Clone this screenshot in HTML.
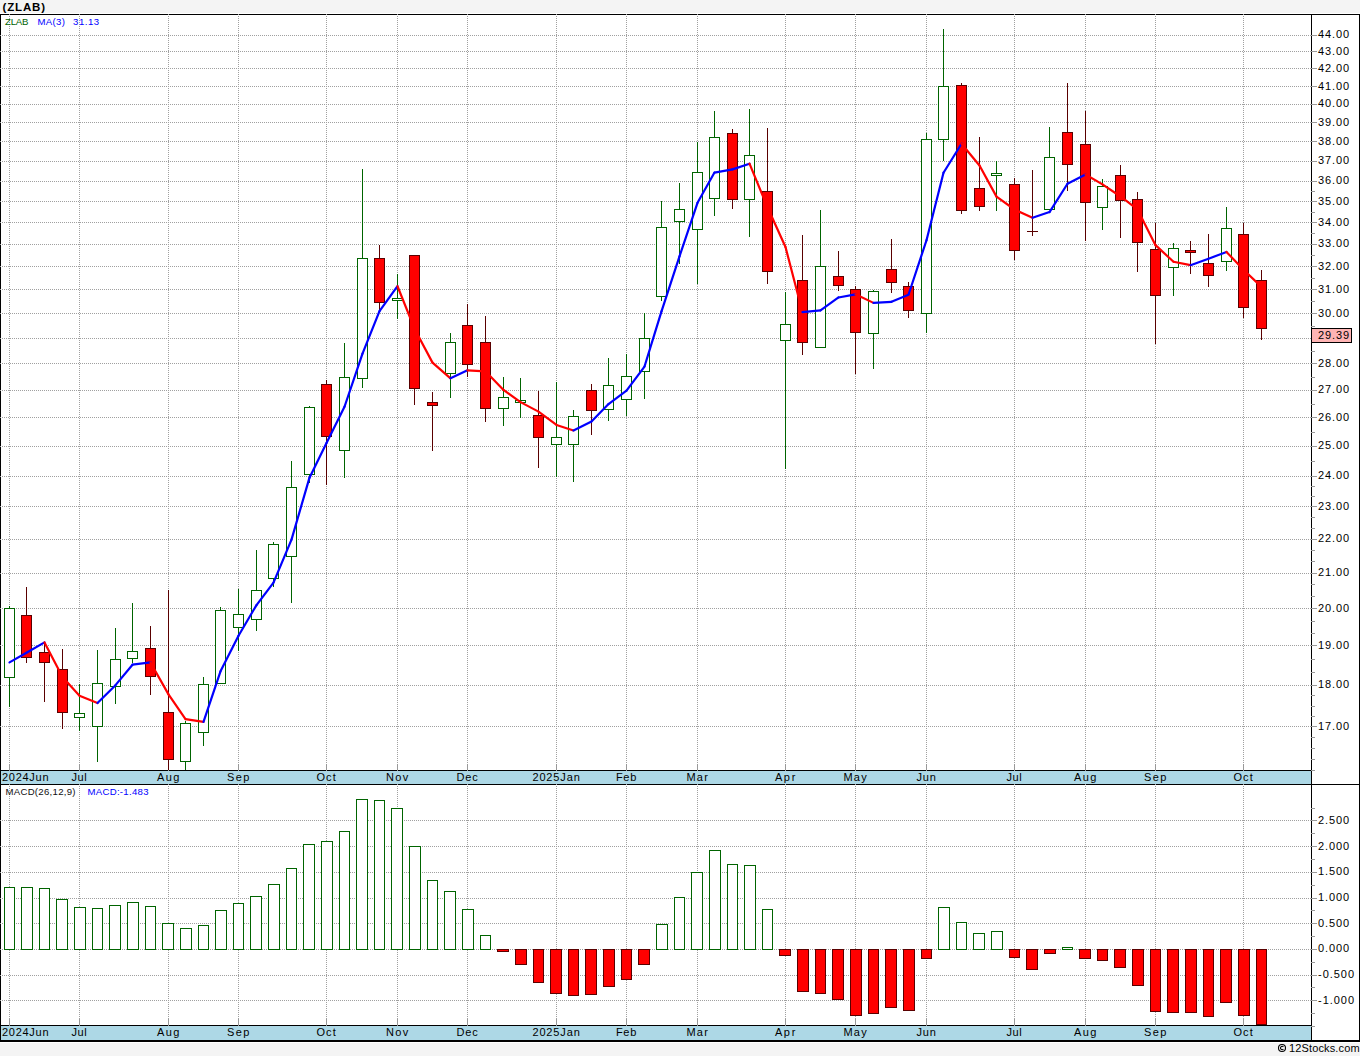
<!DOCTYPE html>
<html><head><meta charset="utf-8"><style>
html,body{margin:0;padding:0;background:#f4f4f4;}
body{width:1360px;height:1056px;overflow:hidden;}
svg{display:block;}
text{font-family:"Liberation Sans",sans-serif;}
</style></head><body>
<svg width="1360" height="1056" viewBox="0 0 1360 1056" shape-rendering="crispEdges">
<rect x="0" y="0" width="1360" height="1056" fill="#f4f4f4"/>
<rect x="0" y="13" width="1360" height="1030" fill="#fff"/>
<rect x="0" y="14" width="1360" height="1" fill="#000"/>
<rect x="0" y="14" width="1" height="1028" fill="#000"/>
<rect x="1359" y="14" width="1" height="1028" fill="#000"/>
<rect x="1311" y="14" width="1" height="1028" fill="#000"/>
<rect x="0" y="770" width="1311" height="1" fill="#000"/>
<rect x="1" y="771" width="1310" height="13" fill="#add8e6"/>
<rect x="0" y="784" width="1360" height="1" fill="#000"/>
<rect x="0" y="1025" width="1311" height="1" fill="#000"/>
<rect x="1" y="1026" width="1310" height="14" fill="#add8e6"/>
<rect x="0" y="1040" width="1360" height="2" fill="#000"/>
<line x1="0" y1="726.5" x2="1311" y2="726.5" stroke="#a0a0a0" stroke-width="1" stroke-dasharray="1 1"/>
<line x1="0" y1="685.5" x2="1311" y2="685.5" stroke="#a0a0a0" stroke-width="1" stroke-dasharray="1 1"/>
<line x1="0" y1="645.5" x2="1311" y2="645.5" stroke="#a0a0a0" stroke-width="1" stroke-dasharray="1 1"/>
<line x1="0" y1="608.5" x2="1311" y2="608.5" stroke="#a0a0a0" stroke-width="1" stroke-dasharray="1 1"/>
<line x1="0" y1="573.5" x2="1311" y2="573.5" stroke="#a0a0a0" stroke-width="1" stroke-dasharray="1 1"/>
<line x1="0" y1="539.5" x2="1311" y2="539.5" stroke="#a0a0a0" stroke-width="1" stroke-dasharray="1 1"/>
<line x1="0" y1="506.5" x2="1311" y2="506.5" stroke="#a0a0a0" stroke-width="1" stroke-dasharray="1 1"/>
<line x1="0" y1="476.5" x2="1311" y2="476.5" stroke="#a0a0a0" stroke-width="1" stroke-dasharray="1 1"/>
<line x1="0" y1="446.5" x2="1311" y2="446.5" stroke="#a0a0a0" stroke-width="1" stroke-dasharray="1 1"/>
<line x1="0" y1="417.5" x2="1311" y2="417.5" stroke="#a0a0a0" stroke-width="1" stroke-dasharray="1 1"/>
<line x1="0" y1="390.5" x2="1311" y2="390.5" stroke="#a0a0a0" stroke-width="1" stroke-dasharray="1 1"/>
<line x1="0" y1="363.5" x2="1311" y2="363.5" stroke="#a0a0a0" stroke-width="1" stroke-dasharray="1 1"/>
<line x1="0" y1="338.5" x2="1311" y2="338.5" stroke="#a0a0a0" stroke-width="1" stroke-dasharray="1 1"/>
<line x1="0" y1="313.5" x2="1311" y2="313.5" stroke="#a0a0a0" stroke-width="1" stroke-dasharray="1 1"/>
<line x1="0" y1="289.5" x2="1311" y2="289.5" stroke="#a0a0a0" stroke-width="1" stroke-dasharray="1 1"/>
<line x1="0" y1="266.5" x2="1311" y2="266.5" stroke="#a0a0a0" stroke-width="1" stroke-dasharray="1 1"/>
<line x1="0" y1="244.5" x2="1311" y2="244.5" stroke="#a0a0a0" stroke-width="1" stroke-dasharray="1 1"/>
<line x1="0" y1="222.5" x2="1311" y2="222.5" stroke="#a0a0a0" stroke-width="1" stroke-dasharray="1 1"/>
<line x1="0" y1="201.5" x2="1311" y2="201.5" stroke="#a0a0a0" stroke-width="1" stroke-dasharray="1 1"/>
<line x1="0" y1="181.5" x2="1311" y2="181.5" stroke="#a0a0a0" stroke-width="1" stroke-dasharray="1 1"/>
<line x1="0" y1="161.5" x2="1311" y2="161.5" stroke="#a0a0a0" stroke-width="1" stroke-dasharray="1 1"/>
<line x1="0" y1="141.5" x2="1311" y2="141.5" stroke="#a0a0a0" stroke-width="1" stroke-dasharray="1 1"/>
<line x1="0" y1="122.5" x2="1311" y2="122.5" stroke="#a0a0a0" stroke-width="1" stroke-dasharray="1 1"/>
<line x1="0" y1="104.5" x2="1311" y2="104.5" stroke="#a0a0a0" stroke-width="1" stroke-dasharray="1 1"/>
<line x1="0" y1="86.5" x2="1311" y2="86.5" stroke="#a0a0a0" stroke-width="1" stroke-dasharray="1 1"/>
<line x1="0" y1="68.5" x2="1311" y2="68.5" stroke="#a0a0a0" stroke-width="1" stroke-dasharray="1 1"/>
<line x1="0" y1="51.5" x2="1311" y2="51.5" stroke="#a0a0a0" stroke-width="1" stroke-dasharray="1 1"/>
<line x1="0" y1="35.5" x2="1311" y2="35.5" stroke="#a0a0a0" stroke-width="1" stroke-dasharray="1 1"/>
<line x1="0" y1="1000.5" x2="1311" y2="1000.5" stroke="#a0a0a0" stroke-width="1" stroke-dasharray="1 1"/>
<line x1="0" y1="975.5" x2="1311" y2="975.5" stroke="#a0a0a0" stroke-width="1" stroke-dasharray="1 1"/>
<line x1="0" y1="949.5" x2="1311" y2="949.5" stroke="#a0a0a0" stroke-width="1" stroke-dasharray="1 1"/>
<line x1="0" y1="923.5" x2="1311" y2="923.5" stroke="#a0a0a0" stroke-width="1" stroke-dasharray="1 1"/>
<line x1="0" y1="898.5" x2="1311" y2="898.5" stroke="#a0a0a0" stroke-width="1" stroke-dasharray="1 1"/>
<line x1="0" y1="872.5" x2="1311" y2="872.5" stroke="#a0a0a0" stroke-width="1" stroke-dasharray="1 1"/>
<line x1="0" y1="846.5" x2="1311" y2="846.5" stroke="#a0a0a0" stroke-width="1" stroke-dasharray="1 1"/>
<line x1="0" y1="820.5" x2="1311" y2="820.5" stroke="#a0a0a0" stroke-width="1" stroke-dasharray="1 1"/>
<line x1="9.5" y1="14" x2="9.5" y2="764" stroke="#a0a0a0" stroke-width="1" stroke-dasharray="1 1"/>
<rect x="9" y="764" width="1" height="7" fill="#999999"/>
<rect x="9" y="784" width="1" height="1" fill="#a0a0a0"/>
<line x1="9.5" y1="786" x2="9.5" y2="1019" stroke="#a0a0a0" stroke-width="1" stroke-dasharray="1 1"/>
<rect x="9" y="1019" width="1" height="7" fill="#999999"/>
<line x1="79.5" y1="14" x2="79.5" y2="764" stroke="#a0a0a0" stroke-width="1" stroke-dasharray="1 1"/>
<rect x="79" y="764" width="1" height="7" fill="#999999"/>
<rect x="79" y="784" width="1" height="1" fill="#a0a0a0"/>
<line x1="79.5" y1="786" x2="79.5" y2="1019" stroke="#a0a0a0" stroke-width="1" stroke-dasharray="1 1"/>
<rect x="79" y="1019" width="1" height="7" fill="#999999"/>
<line x1="168.5" y1="14" x2="168.5" y2="764" stroke="#a0a0a0" stroke-width="1" stroke-dasharray="1 1"/>
<rect x="168" y="764" width="1" height="7" fill="#999999"/>
<rect x="168" y="784" width="1" height="1" fill="#a0a0a0"/>
<line x1="168.5" y1="786" x2="168.5" y2="1019" stroke="#a0a0a0" stroke-width="1" stroke-dasharray="1 1"/>
<rect x="168" y="1019" width="1" height="7" fill="#999999"/>
<line x1="238.5" y1="14" x2="238.5" y2="764" stroke="#a0a0a0" stroke-width="1" stroke-dasharray="1 1"/>
<rect x="238" y="764" width="1" height="7" fill="#999999"/>
<rect x="238" y="784" width="1" height="1" fill="#a0a0a0"/>
<line x1="238.5" y1="786" x2="238.5" y2="1019" stroke="#a0a0a0" stroke-width="1" stroke-dasharray="1 1"/>
<rect x="238" y="1019" width="1" height="7" fill="#999999"/>
<line x1="326.5" y1="14" x2="326.5" y2="764" stroke="#a0a0a0" stroke-width="1" stroke-dasharray="1 1"/>
<rect x="326" y="764" width="1" height="7" fill="#999999"/>
<rect x="326" y="784" width="1" height="1" fill="#a0a0a0"/>
<line x1="326.5" y1="786" x2="326.5" y2="1019" stroke="#a0a0a0" stroke-width="1" stroke-dasharray="1 1"/>
<rect x="326" y="1019" width="1" height="7" fill="#999999"/>
<line x1="397.5" y1="14" x2="397.5" y2="764" stroke="#a0a0a0" stroke-width="1" stroke-dasharray="1 1"/>
<rect x="397" y="764" width="1" height="7" fill="#999999"/>
<rect x="397" y="784" width="1" height="1" fill="#a0a0a0"/>
<line x1="397.5" y1="786" x2="397.5" y2="1019" stroke="#a0a0a0" stroke-width="1" stroke-dasharray="1 1"/>
<rect x="397" y="1019" width="1" height="7" fill="#999999"/>
<line x1="467.5" y1="14" x2="467.5" y2="764" stroke="#a0a0a0" stroke-width="1" stroke-dasharray="1 1"/>
<rect x="467" y="764" width="1" height="7" fill="#999999"/>
<rect x="467" y="784" width="1" height="1" fill="#a0a0a0"/>
<line x1="467.5" y1="786" x2="467.5" y2="1019" stroke="#a0a0a0" stroke-width="1" stroke-dasharray="1 1"/>
<rect x="467" y="1019" width="1" height="7" fill="#999999"/>
<line x1="556.5" y1="14" x2="556.5" y2="764" stroke="#a0a0a0" stroke-width="1" stroke-dasharray="1 1"/>
<rect x="556" y="764" width="1" height="7" fill="#999999"/>
<rect x="556" y="784" width="1" height="1" fill="#a0a0a0"/>
<line x1="556.5" y1="786" x2="556.5" y2="1019" stroke="#a0a0a0" stroke-width="1" stroke-dasharray="1 1"/>
<rect x="556" y="1019" width="1" height="7" fill="#999999"/>
<line x1="626.5" y1="14" x2="626.5" y2="764" stroke="#a0a0a0" stroke-width="1" stroke-dasharray="1 1"/>
<rect x="626" y="764" width="1" height="7" fill="#999999"/>
<rect x="626" y="784" width="1" height="1" fill="#a0a0a0"/>
<line x1="626.5" y1="786" x2="626.5" y2="1019" stroke="#a0a0a0" stroke-width="1" stroke-dasharray="1 1"/>
<rect x="626" y="1019" width="1" height="7" fill="#999999"/>
<line x1="697.5" y1="14" x2="697.5" y2="764" stroke="#a0a0a0" stroke-width="1" stroke-dasharray="1 1"/>
<rect x="697" y="764" width="1" height="7" fill="#999999"/>
<rect x="697" y="784" width="1" height="1" fill="#a0a0a0"/>
<line x1="697.5" y1="786" x2="697.5" y2="1019" stroke="#a0a0a0" stroke-width="1" stroke-dasharray="1 1"/>
<rect x="697" y="1019" width="1" height="7" fill="#999999"/>
<line x1="785.5" y1="14" x2="785.5" y2="764" stroke="#a0a0a0" stroke-width="1" stroke-dasharray="1 1"/>
<rect x="785" y="764" width="1" height="7" fill="#999999"/>
<rect x="785" y="784" width="1" height="1" fill="#a0a0a0"/>
<line x1="785.5" y1="786" x2="785.5" y2="1019" stroke="#a0a0a0" stroke-width="1" stroke-dasharray="1 1"/>
<rect x="785" y="1019" width="1" height="7" fill="#999999"/>
<line x1="855.5" y1="14" x2="855.5" y2="764" stroke="#a0a0a0" stroke-width="1" stroke-dasharray="1 1"/>
<rect x="855" y="764" width="1" height="7" fill="#999999"/>
<rect x="855" y="784" width="1" height="1" fill="#a0a0a0"/>
<line x1="855.5" y1="786" x2="855.5" y2="1019" stroke="#a0a0a0" stroke-width="1" stroke-dasharray="1 1"/>
<rect x="855" y="1019" width="1" height="7" fill="#999999"/>
<line x1="926.5" y1="14" x2="926.5" y2="764" stroke="#a0a0a0" stroke-width="1" stroke-dasharray="1 1"/>
<rect x="926" y="764" width="1" height="7" fill="#999999"/>
<rect x="926" y="784" width="1" height="1" fill="#a0a0a0"/>
<line x1="926.5" y1="786" x2="926.5" y2="1019" stroke="#a0a0a0" stroke-width="1" stroke-dasharray="1 1"/>
<rect x="926" y="1019" width="1" height="7" fill="#999999"/>
<line x1="1014.5" y1="14" x2="1014.5" y2="764" stroke="#a0a0a0" stroke-width="1" stroke-dasharray="1 1"/>
<rect x="1014" y="764" width="1" height="7" fill="#999999"/>
<rect x="1014" y="784" width="1" height="1" fill="#a0a0a0"/>
<line x1="1014.5" y1="786" x2="1014.5" y2="1019" stroke="#a0a0a0" stroke-width="1" stroke-dasharray="1 1"/>
<rect x="1014" y="1019" width="1" height="7" fill="#999999"/>
<line x1="1085.5" y1="14" x2="1085.5" y2="764" stroke="#a0a0a0" stroke-width="1" stroke-dasharray="1 1"/>
<rect x="1085" y="764" width="1" height="7" fill="#999999"/>
<rect x="1085" y="784" width="1" height="1" fill="#a0a0a0"/>
<line x1="1085.5" y1="786" x2="1085.5" y2="1019" stroke="#a0a0a0" stroke-width="1" stroke-dasharray="1 1"/>
<rect x="1085" y="1019" width="1" height="7" fill="#999999"/>
<line x1="1155.5" y1="14" x2="1155.5" y2="764" stroke="#a0a0a0" stroke-width="1" stroke-dasharray="1 1"/>
<rect x="1155" y="764" width="1" height="7" fill="#999999"/>
<rect x="1155" y="784" width="1" height="1" fill="#a0a0a0"/>
<line x1="1155.5" y1="786" x2="1155.5" y2="1019" stroke="#a0a0a0" stroke-width="1" stroke-dasharray="1 1"/>
<rect x="1155" y="1019" width="1" height="7" fill="#999999"/>
<line x1="1243.5" y1="14" x2="1243.5" y2="764" stroke="#a0a0a0" stroke-width="1" stroke-dasharray="1 1"/>
<rect x="1243" y="764" width="1" height="7" fill="#999999"/>
<rect x="1243" y="784" width="1" height="1" fill="#a0a0a0"/>
<line x1="1243.5" y1="786" x2="1243.5" y2="1019" stroke="#a0a0a0" stroke-width="1" stroke-dasharray="1 1"/>
<rect x="1243" y="1019" width="1" height="7" fill="#999999"/>
<rect x="1311" y="770" width="4" height="1" fill="#999999"/>
<rect x="1311" y="759" width="4" height="1" fill="#999999"/>
<rect x="1311" y="748" width="4" height="1" fill="#999999"/>
<rect x="1311" y="737" width="4" height="1" fill="#999999"/>
<rect x="1311" y="726" width="6" height="1" fill="#999999"/>
<rect x="1311" y="716" width="4" height="1" fill="#999999"/>
<rect x="1311" y="706" width="4" height="1" fill="#999999"/>
<rect x="1311" y="695" width="4" height="1" fill="#999999"/>
<rect x="1311" y="685" width="6" height="1" fill="#999999"/>
<rect x="1311" y="672" width="4" height="1" fill="#999999"/>
<rect x="1311" y="659" width="4" height="1" fill="#999999"/>
<rect x="1311" y="645" width="6" height="1" fill="#999999"/>
<rect x="1311" y="633" width="4" height="1" fill="#999999"/>
<rect x="1311" y="621" width="4" height="1" fill="#999999"/>
<rect x="1311" y="608" width="6" height="1" fill="#999999"/>
<rect x="1311" y="596" width="4" height="1" fill="#999999"/>
<rect x="1311" y="584" width="4" height="1" fill="#999999"/>
<rect x="1311" y="573" width="6" height="1" fill="#999999"/>
<rect x="1311" y="561" width="4" height="1" fill="#999999"/>
<rect x="1311" y="550" width="4" height="1" fill="#999999"/>
<rect x="1311" y="539" width="6" height="1" fill="#999999"/>
<rect x="1311" y="528" width="4" height="1" fill="#999999"/>
<rect x="1311" y="517" width="4" height="1" fill="#999999"/>
<rect x="1311" y="506" width="6" height="1" fill="#999999"/>
<rect x="1311" y="496" width="4" height="1" fill="#999999"/>
<rect x="1311" y="486" width="4" height="1" fill="#999999"/>
<rect x="1311" y="476" width="6" height="1" fill="#999999"/>
<rect x="1311" y="461" width="4" height="1" fill="#999999"/>
<rect x="1311" y="446" width="6" height="1" fill="#999999"/>
<rect x="1311" y="432" width="4" height="1" fill="#999999"/>
<rect x="1311" y="417" width="6" height="1" fill="#999999"/>
<rect x="1311" y="404" width="4" height="1" fill="#999999"/>
<rect x="1311" y="390" width="6" height="1" fill="#999999"/>
<rect x="1311" y="377" width="4" height="1" fill="#999999"/>
<rect x="1311" y="363" width="6" height="1" fill="#999999"/>
<rect x="1311" y="351" width="4" height="1" fill="#999999"/>
<rect x="1311" y="338" width="6" height="1" fill="#999999"/>
<rect x="1311" y="326" width="4" height="1" fill="#999999"/>
<rect x="1311" y="313" width="6" height="1" fill="#999999"/>
<rect x="1311" y="301" width="4" height="1" fill="#999999"/>
<rect x="1311" y="289" width="6" height="1" fill="#999999"/>
<rect x="1311" y="278" width="4" height="1" fill="#999999"/>
<rect x="1311" y="266" width="6" height="1" fill="#999999"/>
<rect x="1311" y="255" width="4" height="1" fill="#999999"/>
<rect x="1311" y="244" width="6" height="1" fill="#999999"/>
<rect x="1311" y="233" width="4" height="1" fill="#999999"/>
<rect x="1311" y="222" width="6" height="1" fill="#999999"/>
<rect x="1311" y="212" width="4" height="1" fill="#999999"/>
<rect x="1311" y="201" width="6" height="1" fill="#999999"/>
<rect x="1311" y="191" width="4" height="1" fill="#999999"/>
<rect x="1311" y="181" width="6" height="1" fill="#999999"/>
<rect x="1311" y="161" width="6" height="1" fill="#999999"/>
<rect x="1311" y="141" width="6" height="1" fill="#999999"/>
<rect x="1311" y="122" width="6" height="1" fill="#999999"/>
<rect x="1311" y="104" width="6" height="1" fill="#999999"/>
<rect x="1311" y="86" width="6" height="1" fill="#999999"/>
<rect x="1311" y="68" width="6" height="1" fill="#999999"/>
<rect x="1311" y="51" width="6" height="1" fill="#999999"/>
<rect x="1311" y="35" width="6" height="1" fill="#999999"/>
<rect x="1311" y="1026" width="4" height="1" fill="#999999"/>
<rect x="1311" y="1013" width="4" height="1" fill="#999999"/>
<rect x="1311" y="1000" width="6" height="1" fill="#999999"/>
<rect x="1311" y="987" width="4" height="1" fill="#999999"/>
<rect x="1311" y="975" width="6" height="1" fill="#999999"/>
<rect x="1311" y="962" width="4" height="1" fill="#999999"/>
<rect x="1311" y="949" width="6" height="1" fill="#999999"/>
<rect x="1311" y="936" width="4" height="1" fill="#999999"/>
<rect x="1311" y="923" width="6" height="1" fill="#999999"/>
<rect x="1311" y="910" width="4" height="1" fill="#999999"/>
<rect x="1311" y="898" width="6" height="1" fill="#999999"/>
<rect x="1311" y="885" width="4" height="1" fill="#999999"/>
<rect x="1311" y="872" width="6" height="1" fill="#999999"/>
<rect x="1311" y="859" width="4" height="1" fill="#999999"/>
<rect x="1311" y="846" width="6" height="1" fill="#999999"/>
<rect x="1311" y="833" width="4" height="1" fill="#999999"/>
<rect x="1311" y="820" width="6" height="1" fill="#999999"/>
<rect x="1311" y="808" width="4" height="1" fill="#999999"/>
<rect x="9" y="606" width="1" height="101" fill="#006400"/>
<rect x="4" y="608" width="11" height="70" fill="#006400"/>
<rect x="5" y="609" width="9" height="68" fill="#fff"/>
<rect x="26" y="587" width="1" height="76" fill="#5a0000"/>
<rect x="21" y="615" width="11" height="43" fill="#5a0000"/>
<rect x="22" y="616" width="9" height="41" fill="#ff0000"/>
<rect x="44" y="643" width="1" height="59" fill="#5a0000"/>
<rect x="39" y="652" width="11" height="11" fill="#5a0000"/>
<rect x="40" y="653" width="9" height="9" fill="#ff0000"/>
<rect x="62" y="649" width="1" height="80" fill="#5a0000"/>
<rect x="57" y="669" width="11" height="44" fill="#5a0000"/>
<rect x="58" y="670" width="9" height="42" fill="#ff0000"/>
<rect x="79" y="684" width="1" height="47" fill="#006400"/>
<rect x="74" y="713" width="11" height="5" fill="#006400"/>
<rect x="75" y="714" width="9" height="3" fill="#fff"/>
<rect x="97" y="650" width="1" height="112" fill="#006400"/>
<rect x="92" y="683" width="11" height="44" fill="#006400"/>
<rect x="93" y="684" width="9" height="42" fill="#fff"/>
<rect x="115" y="628" width="1" height="76" fill="#006400"/>
<rect x="110" y="659" width="11" height="28" fill="#006400"/>
<rect x="111" y="660" width="9" height="26" fill="#fff"/>
<rect x="132" y="603" width="1" height="60" fill="#006400"/>
<rect x="127" y="651" width="11" height="8" fill="#006400"/>
<rect x="128" y="652" width="9" height="6" fill="#fff"/>
<rect x="150" y="626" width="1" height="69" fill="#5a0000"/>
<rect x="145" y="648" width="11" height="29" fill="#5a0000"/>
<rect x="146" y="649" width="9" height="27" fill="#ff0000"/>
<rect x="168" y="590" width="1" height="180" fill="#5a0000"/>
<rect x="163" y="712" width="11" height="48" fill="#5a0000"/>
<rect x="164" y="713" width="9" height="46" fill="#ff0000"/>
<rect x="185" y="721" width="1" height="49" fill="#006400"/>
<rect x="180" y="723" width="11" height="39" fill="#006400"/>
<rect x="181" y="724" width="9" height="37" fill="#fff"/>
<rect x="203" y="677" width="1" height="69" fill="#006400"/>
<rect x="198" y="684" width="11" height="49" fill="#006400"/>
<rect x="199" y="685" width="9" height="47" fill="#fff"/>
<rect x="220" y="607" width="1" height="77" fill="#006400"/>
<rect x="215" y="610" width="11" height="74" fill="#006400"/>
<rect x="216" y="611" width="9" height="72" fill="#fff"/>
<rect x="238" y="589" width="1" height="62" fill="#006400"/>
<rect x="233" y="614" width="11" height="14" fill="#006400"/>
<rect x="234" y="615" width="9" height="12" fill="#fff"/>
<rect x="256" y="550" width="1" height="81" fill="#006400"/>
<rect x="251" y="590" width="11" height="30" fill="#006400"/>
<rect x="252" y="591" width="9" height="28" fill="#fff"/>
<rect x="273" y="542" width="1" height="45" fill="#006400"/>
<rect x="268" y="544" width="11" height="35" fill="#006400"/>
<rect x="269" y="545" width="9" height="33" fill="#fff"/>
<rect x="291" y="461" width="1" height="142" fill="#006400"/>
<rect x="286" y="487" width="11" height="70" fill="#006400"/>
<rect x="287" y="488" width="9" height="68" fill="#fff"/>
<rect x="309" y="406" width="1" height="77" fill="#006400"/>
<rect x="304" y="407" width="11" height="68" fill="#006400"/>
<rect x="305" y="408" width="9" height="66" fill="#fff"/>
<rect x="326" y="380" width="1" height="105" fill="#5a0000"/>
<rect x="321" y="384" width="11" height="53" fill="#5a0000"/>
<rect x="322" y="385" width="9" height="51" fill="#ff0000"/>
<rect x="344" y="343" width="1" height="135" fill="#006400"/>
<rect x="339" y="377" width="11" height="74" fill="#006400"/>
<rect x="340" y="378" width="9" height="72" fill="#fff"/>
<rect x="362" y="169" width="1" height="219" fill="#006400"/>
<rect x="357" y="258" width="11" height="121" fill="#006400"/>
<rect x="358" y="259" width="9" height="119" fill="#fff"/>
<rect x="379" y="245" width="1" height="65" fill="#5a0000"/>
<rect x="374" y="258" width="11" height="45" fill="#5a0000"/>
<rect x="375" y="259" width="9" height="43" fill="#ff0000"/>
<rect x="397" y="274" width="1" height="45" fill="#006400"/>
<rect x="392" y="298" width="11" height="3" fill="#006400"/>
<rect x="393" y="299" width="9" height="1" fill="#fff"/>
<rect x="414" y="255" width="1" height="150" fill="#5a0000"/>
<rect x="409" y="255" width="11" height="134" fill="#5a0000"/>
<rect x="410" y="256" width="9" height="132" fill="#ff0000"/>
<rect x="432" y="392" width="1" height="59" fill="#5a0000"/>
<rect x="427" y="402" width="11" height="4" fill="#5a0000"/>
<rect x="428" y="403" width="9" height="2" fill="#ff0000"/>
<rect x="450" y="333" width="1" height="65" fill="#006400"/>
<rect x="445" y="342" width="11" height="32" fill="#006400"/>
<rect x="446" y="343" width="9" height="30" fill="#fff"/>
<rect x="467" y="304" width="1" height="73" fill="#5a0000"/>
<rect x="462" y="325" width="11" height="40" fill="#5a0000"/>
<rect x="463" y="326" width="9" height="38" fill="#ff0000"/>
<rect x="485" y="316" width="1" height="106" fill="#5a0000"/>
<rect x="480" y="342" width="11" height="67" fill="#5a0000"/>
<rect x="481" y="343" width="9" height="65" fill="#ff0000"/>
<rect x="503" y="377" width="1" height="49" fill="#006400"/>
<rect x="498" y="397" width="11" height="12" fill="#006400"/>
<rect x="499" y="398" width="9" height="10" fill="#fff"/>
<rect x="520" y="378" width="1" height="40" fill="#006400"/>
<rect x="515" y="400" width="11" height="3" fill="#006400"/>
<rect x="516" y="401" width="9" height="1" fill="#fff"/>
<rect x="538" y="391" width="1" height="77" fill="#5a0000"/>
<rect x="533" y="415" width="11" height="23" fill="#5a0000"/>
<rect x="534" y="416" width="9" height="21" fill="#ff0000"/>
<rect x="556" y="382" width="1" height="95" fill="#006400"/>
<rect x="551" y="437" width="11" height="8" fill="#006400"/>
<rect x="552" y="438" width="9" height="6" fill="#fff"/>
<rect x="573" y="410" width="1" height="72" fill="#006400"/>
<rect x="568" y="416" width="11" height="29" fill="#006400"/>
<rect x="569" y="417" width="9" height="27" fill="#fff"/>
<rect x="591" y="384" width="1" height="51" fill="#5a0000"/>
<rect x="586" y="390" width="11" height="21" fill="#5a0000"/>
<rect x="587" y="391" width="9" height="19" fill="#ff0000"/>
<rect x="608" y="358" width="1" height="63" fill="#006400"/>
<rect x="603" y="385" width="11" height="25" fill="#006400"/>
<rect x="604" y="386" width="9" height="23" fill="#fff"/>
<rect x="626" y="354" width="1" height="62" fill="#006400"/>
<rect x="621" y="376" width="11" height="24" fill="#006400"/>
<rect x="622" y="377" width="9" height="22" fill="#fff"/>
<rect x="644" y="313" width="1" height="86" fill="#006400"/>
<rect x="639" y="338" width="11" height="34" fill="#006400"/>
<rect x="640" y="339" width="9" height="32" fill="#fff"/>
<rect x="661" y="201" width="1" height="100" fill="#006400"/>
<rect x="656" y="227" width="11" height="70" fill="#006400"/>
<rect x="657" y="228" width="9" height="68" fill="#fff"/>
<rect x="679" y="183" width="1" height="81" fill="#006400"/>
<rect x="674" y="209" width="11" height="13" fill="#006400"/>
<rect x="675" y="210" width="9" height="11" fill="#fff"/>
<rect x="697" y="142" width="1" height="142" fill="#006400"/>
<rect x="692" y="172" width="11" height="58" fill="#006400"/>
<rect x="693" y="173" width="9" height="56" fill="#fff"/>
<rect x="714" y="111" width="1" height="105" fill="#006400"/>
<rect x="709" y="137" width="11" height="62" fill="#006400"/>
<rect x="710" y="138" width="9" height="60" fill="#fff"/>
<rect x="732" y="129" width="1" height="80" fill="#5a0000"/>
<rect x="727" y="133" width="11" height="67" fill="#5a0000"/>
<rect x="728" y="134" width="9" height="65" fill="#ff0000"/>
<rect x="749" y="109" width="1" height="128" fill="#006400"/>
<rect x="744" y="155" width="11" height="45" fill="#006400"/>
<rect x="745" y="156" width="9" height="43" fill="#fff"/>
<rect x="767" y="128" width="1" height="156" fill="#5a0000"/>
<rect x="762" y="191" width="11" height="81" fill="#5a0000"/>
<rect x="763" y="192" width="9" height="79" fill="#ff0000"/>
<rect x="785" y="292" width="1" height="177" fill="#006400"/>
<rect x="780" y="324" width="11" height="17" fill="#006400"/>
<rect x="781" y="325" width="9" height="15" fill="#fff"/>
<rect x="802" y="235" width="1" height="120" fill="#5a0000"/>
<rect x="797" y="280" width="11" height="63" fill="#5a0000"/>
<rect x="798" y="281" width="9" height="61" fill="#ff0000"/>
<rect x="820" y="210" width="1" height="138" fill="#006400"/>
<rect x="815" y="266" width="11" height="82" fill="#006400"/>
<rect x="816" y="267" width="9" height="80" fill="#fff"/>
<rect x="838" y="251" width="1" height="40" fill="#5a0000"/>
<rect x="833" y="276" width="11" height="10" fill="#5a0000"/>
<rect x="834" y="277" width="9" height="8" fill="#ff0000"/>
<rect x="855" y="286" width="1" height="88" fill="#5a0000"/>
<rect x="850" y="289" width="11" height="44" fill="#5a0000"/>
<rect x="851" y="290" width="9" height="42" fill="#ff0000"/>
<rect x="873" y="290" width="1" height="79" fill="#006400"/>
<rect x="868" y="291" width="11" height="43" fill="#006400"/>
<rect x="869" y="292" width="9" height="41" fill="#fff"/>
<rect x="891" y="239" width="1" height="54" fill="#5a0000"/>
<rect x="886" y="269" width="11" height="14" fill="#5a0000"/>
<rect x="887" y="270" width="9" height="12" fill="#ff0000"/>
<rect x="908" y="282" width="1" height="36" fill="#5a0000"/>
<rect x="903" y="286" width="11" height="25" fill="#5a0000"/>
<rect x="904" y="287" width="9" height="23" fill="#ff0000"/>
<rect x="926" y="133" width="1" height="200" fill="#006400"/>
<rect x="921" y="139" width="11" height="175" fill="#006400"/>
<rect x="922" y="140" width="9" height="173" fill="#fff"/>
<rect x="943" y="29" width="1" height="132" fill="#006400"/>
<rect x="938" y="86" width="11" height="54" fill="#006400"/>
<rect x="939" y="87" width="9" height="52" fill="#fff"/>
<rect x="961" y="83" width="1" height="131" fill="#5a0000"/>
<rect x="956" y="85" width="11" height="126" fill="#5a0000"/>
<rect x="957" y="86" width="9" height="124" fill="#ff0000"/>
<rect x="979" y="137" width="1" height="74" fill="#5a0000"/>
<rect x="974" y="188" width="11" height="19" fill="#5a0000"/>
<rect x="975" y="189" width="9" height="17" fill="#ff0000"/>
<rect x="996" y="161" width="1" height="50" fill="#006400"/>
<rect x="991" y="173" width="11" height="3" fill="#006400"/>
<rect x="992" y="174" width="9" height="1" fill="#fff"/>
<rect x="1014" y="178" width="1" height="82" fill="#5a0000"/>
<rect x="1009" y="184" width="11" height="67" fill="#5a0000"/>
<rect x="1010" y="185" width="9" height="65" fill="#ff0000"/>
<rect x="1032" y="170" width="1" height="66" fill="#5a0000"/>
<rect x="1027" y="231" width="11" height="1" fill="#5a0000"/>
<rect x="1049" y="127" width="1" height="83" fill="#006400"/>
<rect x="1044" y="157" width="11" height="53" fill="#006400"/>
<rect x="1045" y="158" width="9" height="51" fill="#fff"/>
<rect x="1067" y="83" width="1" height="108" fill="#5a0000"/>
<rect x="1062" y="132" width="11" height="33" fill="#5a0000"/>
<rect x="1063" y="133" width="9" height="31" fill="#ff0000"/>
<rect x="1085" y="111" width="1" height="130" fill="#5a0000"/>
<rect x="1080" y="144" width="11" height="59" fill="#5a0000"/>
<rect x="1081" y="145" width="9" height="57" fill="#ff0000"/>
<rect x="1102" y="179" width="1" height="51" fill="#006400"/>
<rect x="1097" y="186" width="11" height="22" fill="#006400"/>
<rect x="1098" y="187" width="9" height="20" fill="#fff"/>
<rect x="1120" y="165" width="1" height="73" fill="#5a0000"/>
<rect x="1115" y="175" width="11" height="26" fill="#5a0000"/>
<rect x="1116" y="176" width="9" height="24" fill="#ff0000"/>
<rect x="1137" y="192" width="1" height="80" fill="#5a0000"/>
<rect x="1132" y="199" width="11" height="44" fill="#5a0000"/>
<rect x="1133" y="200" width="9" height="42" fill="#ff0000"/>
<rect x="1155" y="223" width="1" height="121" fill="#5a0000"/>
<rect x="1150" y="249" width="11" height="47" fill="#5a0000"/>
<rect x="1151" y="250" width="9" height="45" fill="#ff0000"/>
<rect x="1173" y="243" width="1" height="53" fill="#006400"/>
<rect x="1168" y="248" width="11" height="20" fill="#006400"/>
<rect x="1169" y="249" width="9" height="18" fill="#fff"/>
<rect x="1190" y="241" width="1" height="33" fill="#5a0000"/>
<rect x="1185" y="250" width="11" height="3" fill="#5a0000"/>
<rect x="1186" y="251" width="9" height="1" fill="#ff0000"/>
<rect x="1208" y="234" width="1" height="53" fill="#5a0000"/>
<rect x="1203" y="263" width="11" height="13" fill="#5a0000"/>
<rect x="1204" y="264" width="9" height="11" fill="#ff0000"/>
<rect x="1226" y="207" width="1" height="64" fill="#006400"/>
<rect x="1221" y="228" width="11" height="34" fill="#006400"/>
<rect x="1222" y="229" width="9" height="32" fill="#fff"/>
<rect x="1243" y="223" width="1" height="95" fill="#5a0000"/>
<rect x="1238" y="234" width="11" height="74" fill="#5a0000"/>
<rect x="1239" y="235" width="9" height="72" fill="#ff0000"/>
<rect x="1261" y="270" width="1" height="70" fill="#5a0000"/>
<rect x="1256" y="280" width="11" height="49" fill="#5a0000"/>
<rect x="1257" y="281" width="9" height="47" fill="#ff0000"/>
<line x1="9.50" y1="662.40" x2="26.50" y2="652.80" stroke="#0000ff" stroke-width="2.2" stroke-linecap="round" shape-rendering="auto"/>
<line x1="26.50" y1="652.80" x2="44.50" y2="642.42" stroke="#0000ff" stroke-width="2.2" stroke-linecap="round" shape-rendering="auto"/>
<line x1="44.50" y1="642.42" x2="62.50" y2="677.08" stroke="#ff0000" stroke-width="2.2" stroke-linecap="round" shape-rendering="auto"/>
<line x1="62.50" y1="677.08" x2="79.50" y2="695.77" stroke="#ff0000" stroke-width="2.2" stroke-linecap="round" shape-rendering="auto"/>
<line x1="79.50" y1="695.77" x2="97.50" y2="703.03" stroke="#ff0000" stroke-width="2.2" stroke-linecap="round" shape-rendering="auto"/>
<line x1="97.50" y1="703.03" x2="115.50" y2="685.17" stroke="#0000ff" stroke-width="2.2" stroke-linecap="round" shape-rendering="auto"/>
<line x1="115.50" y1="685.17" x2="132.50" y2="664.71" stroke="#0000ff" stroke-width="2.2" stroke-linecap="round" shape-rendering="auto"/>
<line x1="132.50" y1="664.71" x2="150.50" y2="662.43" stroke="#0000ff" stroke-width="2.2" stroke-linecap="round" shape-rendering="auto"/>
<line x1="150.50" y1="662.43" x2="168.50" y2="694.39" stroke="#ff0000" stroke-width="2.2" stroke-linecap="round" shape-rendering="auto"/>
<line x1="168.50" y1="694.39" x2="185.50" y2="719.04" stroke="#ff0000" stroke-width="2.2" stroke-linecap="round" shape-rendering="auto"/>
<line x1="185.50" y1="719.04" x2="203.50" y2="721.85" stroke="#ff0000" stroke-width="2.2" stroke-linecap="round" shape-rendering="auto"/>
<line x1="203.50" y1="721.85" x2="220.50" y2="671.31" stroke="#0000ff" stroke-width="2.2" stroke-linecap="round" shape-rendering="auto"/>
<line x1="220.50" y1="671.31" x2="238.50" y2="635.72" stroke="#0000ff" stroke-width="2.2" stroke-linecap="round" shape-rendering="auto"/>
<line x1="238.50" y1="635.72" x2="256.50" y2="605.09" stroke="#0000ff" stroke-width="2.2" stroke-linecap="round" shape-rendering="auto"/>
<line x1="256.50" y1="605.09" x2="273.50" y2="582.58" stroke="#0000ff" stroke-width="2.2" stroke-linecap="round" shape-rendering="auto"/>
<line x1="273.50" y1="582.58" x2="291.50" y2="539.61" stroke="#0000ff" stroke-width="2.2" stroke-linecap="round" shape-rendering="auto"/>
<line x1="291.50" y1="539.61" x2="309.50" y2="477.65" stroke="#0000ff" stroke-width="2.2" stroke-linecap="round" shape-rendering="auto"/>
<line x1="309.50" y1="477.65" x2="326.50" y2="443.09" stroke="#0000ff" stroke-width="2.2" stroke-linecap="round" shape-rendering="auto"/>
<line x1="326.50" y1="443.09" x2="344.50" y2="406.77" stroke="#0000ff" stroke-width="2.2" stroke-linecap="round" shape-rendering="auto"/>
<line x1="344.50" y1="406.77" x2="362.50" y2="353.69" stroke="#0000ff" stroke-width="2.2" stroke-linecap="round" shape-rendering="auto"/>
<line x1="362.50" y1="353.69" x2="379.50" y2="311.19" stroke="#0000ff" stroke-width="2.2" stroke-linecap="round" shape-rendering="auto"/>
<line x1="379.50" y1="311.19" x2="397.50" y2="286.23" stroke="#0000ff" stroke-width="2.2" stroke-linecap="round" shape-rendering="auto"/>
<line x1="397.50" y1="286.23" x2="414.50" y2="328.66" stroke="#ff0000" stroke-width="2.2" stroke-linecap="round" shape-rendering="auto"/>
<line x1="414.50" y1="328.66" x2="432.50" y2="362.63" stroke="#ff0000" stroke-width="2.2" stroke-linecap="round" shape-rendering="auto"/>
<line x1="432.50" y1="362.63" x2="450.50" y2="378.34" stroke="#ff0000" stroke-width="2.2" stroke-linecap="round" shape-rendering="auto"/>
<line x1="450.50" y1="378.34" x2="467.50" y2="370.37" stroke="#0000ff" stroke-width="2.2" stroke-linecap="round" shape-rendering="auto"/>
<line x1="467.50" y1="370.37" x2="485.50" y2="371.32" stroke="#ff0000" stroke-width="2.2" stroke-linecap="round" shape-rendering="auto"/>
<line x1="485.50" y1="371.32" x2="503.50" y2="389.93" stroke="#ff0000" stroke-width="2.2" stroke-linecap="round" shape-rendering="auto"/>
<line x1="503.50" y1="389.93" x2="520.50" y2="402.15" stroke="#ff0000" stroke-width="2.2" stroke-linecap="round" shape-rendering="auto"/>
<line x1="520.50" y1="402.15" x2="538.50" y2="411.61" stroke="#ff0000" stroke-width="2.2" stroke-linecap="round" shape-rendering="auto"/>
<line x1="538.50" y1="411.61" x2="556.50" y2="424.96" stroke="#ff0000" stroke-width="2.2" stroke-linecap="round" shape-rendering="auto"/>
<line x1="556.50" y1="424.96" x2="573.50" y2="430.43" stroke="#ff0000" stroke-width="2.2" stroke-linecap="round" shape-rendering="auto"/>
<line x1="573.50" y1="430.43" x2="591.50" y2="421.41" stroke="#0000ff" stroke-width="2.2" stroke-linecap="round" shape-rendering="auto"/>
<line x1="591.50" y1="421.41" x2="608.50" y2="404.04" stroke="#0000ff" stroke-width="2.2" stroke-linecap="round" shape-rendering="auto"/>
<line x1="608.50" y1="404.04" x2="626.50" y2="390.69" stroke="#0000ff" stroke-width="2.2" stroke-linecap="round" shape-rendering="auto"/>
<line x1="626.50" y1="390.69" x2="644.50" y2="366.55" stroke="#0000ff" stroke-width="2.2" stroke-linecap="round" shape-rendering="auto"/>
<line x1="644.50" y1="366.55" x2="661.50" y2="311.38" stroke="#0000ff" stroke-width="2.2" stroke-linecap="round" shape-rendering="auto"/>
<line x1="661.50" y1="311.38" x2="679.50" y2="256.30" stroke="#0000ff" stroke-width="2.2" stroke-linecap="round" shape-rendering="auto"/>
<line x1="679.50" y1="256.30" x2="697.50" y2="202.80" stroke="#0000ff" stroke-width="2.2" stroke-linecap="round" shape-rendering="auto"/>
<line x1="697.50" y1="202.80" x2="714.50" y2="172.57" stroke="#0000ff" stroke-width="2.2" stroke-linecap="round" shape-rendering="auto"/>
<line x1="714.50" y1="172.57" x2="732.50" y2="169.39" stroke="#0000ff" stroke-width="2.2" stroke-linecap="round" shape-rendering="auto"/>
<line x1="732.50" y1="169.39" x2="749.50" y2="163.70" stroke="#0000ff" stroke-width="2.2" stroke-linecap="round" shape-rendering="auto"/>
<line x1="749.50" y1="163.70" x2="767.50" y2="207.27" stroke="#ff0000" stroke-width="2.2" stroke-linecap="round" shape-rendering="auto"/>
<line x1="767.50" y1="207.27" x2="785.50" y2="247.03" stroke="#ff0000" stroke-width="2.2" stroke-linecap="round" shape-rendering="auto"/>
<line x1="785.50" y1="247.03" x2="802.50" y2="312.20" stroke="#ff0000" stroke-width="2.2" stroke-linecap="round" shape-rendering="auto"/>
<line x1="802.50" y1="312.20" x2="820.50" y2="310.44" stroke="#0000ff" stroke-width="2.2" stroke-linecap="round" shape-rendering="auto"/>
<line x1="820.50" y1="310.44" x2="838.50" y2="297.46" stroke="#0000ff" stroke-width="2.2" stroke-linecap="round" shape-rendering="auto"/>
<line x1="838.50" y1="297.46" x2="855.50" y2="294.31" stroke="#0000ff" stroke-width="2.2" stroke-linecap="round" shape-rendering="auto"/>
<line x1="855.50" y1="294.31" x2="873.50" y2="302.87" stroke="#ff0000" stroke-width="2.2" stroke-linecap="round" shape-rendering="auto"/>
<line x1="873.50" y1="302.87" x2="891.50" y2="301.84" stroke="#0000ff" stroke-width="2.2" stroke-linecap="round" shape-rendering="auto"/>
<line x1="891.50" y1="301.84" x2="908.50" y2="294.74" stroke="#0000ff" stroke-width="2.2" stroke-linecap="round" shape-rendering="auto"/>
<line x1="908.50" y1="294.74" x2="926.50" y2="240.23" stroke="#0000ff" stroke-width="2.2" stroke-linecap="round" shape-rendering="auto"/>
<line x1="926.50" y1="240.23" x2="943.50" y2="172.72" stroke="#0000ff" stroke-width="2.2" stroke-linecap="round" shape-rendering="auto"/>
<line x1="943.50" y1="172.72" x2="961.50" y2="143.73" stroke="#0000ff" stroke-width="2.2" stroke-linecap="round" shape-rendering="auto"/>
<line x1="961.50" y1="143.73" x2="979.50" y2="165.52" stroke="#ff0000" stroke-width="2.2" stroke-linecap="round" shape-rendering="auto"/>
<line x1="979.50" y1="165.52" x2="996.50" y2="196.64" stroke="#ff0000" stroke-width="2.2" stroke-linecap="round" shape-rendering="auto"/>
<line x1="996.50" y1="196.64" x2="1014.50" y2="209.48" stroke="#ff0000" stroke-width="2.2" stroke-linecap="round" shape-rendering="auto"/>
<line x1="1014.50" y1="209.48" x2="1032.50" y2="217.76" stroke="#ff0000" stroke-width="2.2" stroke-linecap="round" shape-rendering="auto"/>
<line x1="1032.50" y1="217.76" x2="1049.50" y2="212.05" stroke="#0000ff" stroke-width="2.2" stroke-linecap="round" shape-rendering="auto"/>
<line x1="1049.50" y1="212.05" x2="1067.50" y2="183.74" stroke="#0000ff" stroke-width="2.2" stroke-linecap="round" shape-rendering="auto"/>
<line x1="1067.50" y1="183.74" x2="1085.50" y2="174.57" stroke="#0000ff" stroke-width="2.2" stroke-linecap="round" shape-rendering="auto"/>
<line x1="1085.50" y1="174.57" x2="1102.50" y2="184.33" stroke="#ff0000" stroke-width="2.2" stroke-linecap="round" shape-rendering="auto"/>
<line x1="1102.50" y1="184.33" x2="1120.50" y2="196.47" stroke="#ff0000" stroke-width="2.2" stroke-linecap="round" shape-rendering="auto"/>
<line x1="1120.50" y1="196.47" x2="1137.50" y2="209.45" stroke="#ff0000" stroke-width="2.2" stroke-linecap="round" shape-rendering="auto"/>
<line x1="1137.50" y1="209.45" x2="1155.50" y2="245.13" stroke="#ff0000" stroke-width="2.2" stroke-linecap="round" shape-rendering="auto"/>
<line x1="1155.50" y1="245.13" x2="1173.50" y2="261.78" stroke="#ff0000" stroke-width="2.2" stroke-linecap="round" shape-rendering="auto"/>
<line x1="1173.50" y1="261.78" x2="1190.50" y2="265.19" stroke="#ff0000" stroke-width="2.2" stroke-linecap="round" shape-rendering="auto"/>
<line x1="1190.50" y1="265.19" x2="1208.50" y2="258.74" stroke="#0000ff" stroke-width="2.2" stroke-linecap="round" shape-rendering="auto"/>
<line x1="1208.50" y1="258.74" x2="1226.50" y2="251.91" stroke="#0000ff" stroke-width="2.2" stroke-linecap="round" shape-rendering="auto"/>
<line x1="1226.50" y1="251.91" x2="1243.50" y2="269.77" stroke="#ff0000" stroke-width="2.2" stroke-linecap="round" shape-rendering="auto"/>
<line x1="1243.50" y1="269.77" x2="1261.50" y2="286.88" stroke="#ff0000" stroke-width="2.2" stroke-linecap="round" shape-rendering="auto"/>
<rect x="4" y="887" width="11" height="63" fill="#006400"/>
<rect x="5" y="888" width="9" height="61" fill="#fff"/>
<rect x="21" y="887" width="12" height="63" fill="#006400"/>
<rect x="22" y="888" width="10" height="61" fill="#fff"/>
<rect x="39" y="888" width="11" height="62" fill="#006400"/>
<rect x="40" y="889" width="9" height="60" fill="#fff"/>
<rect x="56" y="899" width="12" height="51" fill="#006400"/>
<rect x="57" y="900" width="10" height="49" fill="#fff"/>
<rect x="74" y="907" width="12" height="43" fill="#006400"/>
<rect x="75" y="908" width="10" height="41" fill="#fff"/>
<rect x="92" y="908" width="11" height="42" fill="#006400"/>
<rect x="93" y="909" width="9" height="40" fill="#fff"/>
<rect x="109" y="905" width="12" height="45" fill="#006400"/>
<rect x="110" y="906" width="10" height="43" fill="#fff"/>
<rect x="127" y="902" width="12" height="48" fill="#006400"/>
<rect x="128" y="903" width="10" height="46" fill="#fff"/>
<rect x="145" y="906" width="11" height="44" fill="#006400"/>
<rect x="146" y="907" width="9" height="42" fill="#fff"/>
<rect x="162" y="923" width="12" height="27" fill="#006400"/>
<rect x="163" y="924" width="10" height="25" fill="#fff"/>
<rect x="180" y="928" width="12" height="22" fill="#006400"/>
<rect x="181" y="929" width="10" height="20" fill="#fff"/>
<rect x="198" y="925" width="11" height="25" fill="#006400"/>
<rect x="199" y="926" width="9" height="23" fill="#fff"/>
<rect x="215" y="910" width="12" height="40" fill="#006400"/>
<rect x="216" y="911" width="10" height="38" fill="#fff"/>
<rect x="233" y="903" width="11" height="47" fill="#006400"/>
<rect x="234" y="904" width="9" height="45" fill="#fff"/>
<rect x="250" y="896" width="12" height="54" fill="#006400"/>
<rect x="251" y="897" width="10" height="52" fill="#fff"/>
<rect x="268" y="884" width="12" height="66" fill="#006400"/>
<rect x="269" y="885" width="10" height="64" fill="#fff"/>
<rect x="286" y="868" width="11" height="82" fill="#006400"/>
<rect x="287" y="869" width="9" height="80" fill="#fff"/>
<rect x="303" y="844" width="12" height="106" fill="#006400"/>
<rect x="304" y="845" width="10" height="104" fill="#fff"/>
<rect x="321" y="841" width="12" height="109" fill="#006400"/>
<rect x="322" y="842" width="10" height="107" fill="#fff"/>
<rect x="339" y="831" width="11" height="119" fill="#006400"/>
<rect x="340" y="832" width="9" height="117" fill="#fff"/>
<rect x="356" y="799" width="12" height="151" fill="#006400"/>
<rect x="357" y="800" width="10" height="149" fill="#fff"/>
<rect x="374" y="800" width="11" height="150" fill="#006400"/>
<rect x="375" y="801" width="9" height="148" fill="#fff"/>
<rect x="391" y="808" width="12" height="142" fill="#006400"/>
<rect x="392" y="809" width="10" height="140" fill="#fff"/>
<rect x="409" y="846" width="12" height="104" fill="#006400"/>
<rect x="410" y="847" width="10" height="102" fill="#fff"/>
<rect x="427" y="880" width="11" height="70" fill="#006400"/>
<rect x="428" y="881" width="9" height="68" fill="#fff"/>
<rect x="444" y="891" width="12" height="59" fill="#006400"/>
<rect x="445" y="892" width="10" height="57" fill="#fff"/>
<rect x="462" y="909" width="12" height="41" fill="#006400"/>
<rect x="463" y="910" width="10" height="39" fill="#fff"/>
<rect x="480" y="935" width="11" height="15" fill="#006400"/>
<rect x="481" y="936" width="9" height="13" fill="#fff"/>
<rect x="497" y="949" width="12" height="3" fill="#5a0000"/>
<rect x="498" y="950" width="10" height="1" fill="#ff0000"/>
<rect x="515" y="949" width="12" height="16" fill="#5a0000"/>
<rect x="516" y="950" width="10" height="14" fill="#ff0000"/>
<rect x="533" y="949" width="11" height="34" fill="#5a0000"/>
<rect x="534" y="950" width="9" height="32" fill="#ff0000"/>
<rect x="550" y="949" width="12" height="45" fill="#5a0000"/>
<rect x="551" y="950" width="10" height="43" fill="#ff0000"/>
<rect x="568" y="949" width="11" height="47" fill="#5a0000"/>
<rect x="569" y="950" width="9" height="45" fill="#ff0000"/>
<rect x="585" y="949" width="12" height="46" fill="#5a0000"/>
<rect x="586" y="950" width="10" height="44" fill="#ff0000"/>
<rect x="603" y="949" width="12" height="38" fill="#5a0000"/>
<rect x="604" y="950" width="10" height="36" fill="#ff0000"/>
<rect x="621" y="949" width="11" height="31" fill="#5a0000"/>
<rect x="622" y="950" width="9" height="29" fill="#ff0000"/>
<rect x="638" y="949" width="12" height="16" fill="#5a0000"/>
<rect x="639" y="950" width="10" height="14" fill="#ff0000"/>
<rect x="656" y="924" width="12" height="26" fill="#006400"/>
<rect x="657" y="925" width="10" height="24" fill="#fff"/>
<rect x="674" y="897" width="11" height="53" fill="#006400"/>
<rect x="675" y="898" width="9" height="51" fill="#fff"/>
<rect x="691" y="872" width="12" height="78" fill="#006400"/>
<rect x="692" y="873" width="10" height="76" fill="#fff"/>
<rect x="709" y="850" width="12" height="100" fill="#006400"/>
<rect x="710" y="851" width="10" height="98" fill="#fff"/>
<rect x="727" y="864" width="11" height="86" fill="#006400"/>
<rect x="728" y="865" width="9" height="84" fill="#fff"/>
<rect x="744" y="865" width="12" height="85" fill="#006400"/>
<rect x="745" y="866" width="10" height="83" fill="#fff"/>
<rect x="762" y="909" width="11" height="41" fill="#006400"/>
<rect x="763" y="910" width="9" height="39" fill="#fff"/>
<rect x="779" y="949" width="12" height="7" fill="#5a0000"/>
<rect x="780" y="950" width="10" height="5" fill="#ff0000"/>
<rect x="797" y="949" width="12" height="43" fill="#5a0000"/>
<rect x="798" y="950" width="10" height="41" fill="#ff0000"/>
<rect x="815" y="949" width="11" height="45" fill="#5a0000"/>
<rect x="816" y="950" width="9" height="43" fill="#ff0000"/>
<rect x="832" y="949" width="12" height="51" fill="#5a0000"/>
<rect x="833" y="950" width="10" height="49" fill="#ff0000"/>
<rect x="850" y="949" width="12" height="67" fill="#5a0000"/>
<rect x="851" y="950" width="10" height="65" fill="#ff0000"/>
<rect x="868" y="949" width="11" height="65" fill="#5a0000"/>
<rect x="869" y="950" width="9" height="63" fill="#ff0000"/>
<rect x="885" y="949" width="12" height="59" fill="#5a0000"/>
<rect x="886" y="950" width="10" height="57" fill="#ff0000"/>
<rect x="903" y="949" width="12" height="62" fill="#5a0000"/>
<rect x="904" y="950" width="10" height="60" fill="#ff0000"/>
<rect x="921" y="949" width="11" height="10" fill="#5a0000"/>
<rect x="922" y="950" width="9" height="8" fill="#ff0000"/>
<rect x="938" y="907" width="12" height="43" fill="#006400"/>
<rect x="939" y="908" width="10" height="41" fill="#fff"/>
<rect x="956" y="922" width="11" height="28" fill="#006400"/>
<rect x="957" y="923" width="9" height="26" fill="#fff"/>
<rect x="973" y="933" width="12" height="17" fill="#006400"/>
<rect x="974" y="934" width="10" height="15" fill="#fff"/>
<rect x="991" y="931" width="12" height="19" fill="#006400"/>
<rect x="992" y="932" width="10" height="17" fill="#fff"/>
<rect x="1009" y="949" width="11" height="9" fill="#5a0000"/>
<rect x="1010" y="950" width="9" height="7" fill="#ff0000"/>
<rect x="1026" y="949" width="12" height="21" fill="#5a0000"/>
<rect x="1027" y="950" width="10" height="19" fill="#ff0000"/>
<rect x="1044" y="949" width="12" height="5" fill="#5a0000"/>
<rect x="1045" y="950" width="10" height="3" fill="#ff0000"/>
<rect x="1062" y="947" width="11" height="3" fill="#006400"/>
<rect x="1063" y="948" width="9" height="1" fill="#fff"/>
<rect x="1079" y="949" width="12" height="10" fill="#5a0000"/>
<rect x="1080" y="950" width="10" height="8" fill="#ff0000"/>
<rect x="1097" y="949" width="11" height="12" fill="#5a0000"/>
<rect x="1098" y="950" width="9" height="10" fill="#ff0000"/>
<rect x="1114" y="949" width="12" height="19" fill="#5a0000"/>
<rect x="1115" y="950" width="10" height="17" fill="#ff0000"/>
<rect x="1132" y="949" width="12" height="37" fill="#5a0000"/>
<rect x="1133" y="950" width="10" height="35" fill="#ff0000"/>
<rect x="1150" y="949" width="11" height="63" fill="#5a0000"/>
<rect x="1151" y="950" width="9" height="61" fill="#ff0000"/>
<rect x="1167" y="949" width="12" height="64" fill="#5a0000"/>
<rect x="1168" y="950" width="10" height="62" fill="#ff0000"/>
<rect x="1185" y="949" width="12" height="64" fill="#5a0000"/>
<rect x="1186" y="950" width="10" height="62" fill="#ff0000"/>
<rect x="1203" y="949" width="11" height="68" fill="#5a0000"/>
<rect x="1204" y="950" width="9" height="66" fill="#ff0000"/>
<rect x="1220" y="949" width="12" height="54" fill="#5a0000"/>
<rect x="1221" y="950" width="10" height="52" fill="#ff0000"/>
<rect x="1238" y="949" width="12" height="67" fill="#5a0000"/>
<rect x="1239" y="950" width="10" height="65" fill="#ff0000"/>
<rect x="1256" y="949" width="11" height="76" fill="#5a0000"/>
<rect x="1257" y="950" width="9" height="74" fill="#ff0000"/>
<rect x="1311" y="328" width="41" height="15" fill="#000"/>
<rect x="1312" y="329" width="39" height="13" fill="#ffb4b4"/>
<text x="1318" y="729.8406063341517" font-size="11" fill="#000" text-anchor="start" textLength="31.2" lengthAdjust="spacing" font-weight="normal">17.00</text>
<text x="1318" y="688.2670056118036" font-size="11" fill="#000" text-anchor="start" textLength="31.2" lengthAdjust="spacing" font-weight="normal">18.00</text>
<text x="1318" y="648.9417528930812" font-size="11" fill="#000" text-anchor="start" textLength="31.2" lengthAdjust="spacing" font-weight="normal">19.00</text>
<text x="1318" y="611.6340881532406" font-size="11" fill="#000" text-anchor="start" textLength="31.2" lengthAdjust="spacing" font-weight="normal">20.00</text>
<text x="1318" y="576.1470501462454" font-size="11" fill="#000" text-anchor="start" textLength="31.2" lengthAdjust="spacing" font-weight="normal">21.00</text>
<text x="1318" y="542.3111819743626" font-size="11" fill="#000" text-anchor="start" textLength="31.2" lengthAdjust="spacing" font-weight="normal">22.00</text>
<text x="1318" y="509.9796369860924" font-size="11" fill="#000" text-anchor="start" textLength="31.2" lengthAdjust="spacing" font-weight="normal">23.00</text>
<text x="1318" y="479.02432703472505" font-size="11" fill="#000" text-anchor="start" textLength="31.2" lengthAdjust="spacing" font-weight="normal">24.00</text>
<text x="1318" y="449.33285754036297" font-size="11" fill="#000" text-anchor="start" textLength="31.2" lengthAdjust="spacing" font-weight="normal">25.00</text>
<text x="1318" y="420.80606403545517" font-size="11" fill="#000" text-anchor="start" textLength="31.2" lengthAdjust="spacing" font-weight="normal">26.00</text>
<text x="1318" y="393.3560138804114" font-size="11" fill="#000" text-anchor="start" textLength="31.2" lengthAdjust="spacing" font-weight="normal">27.00</text>
<text x="1318" y="366.9043715691673" font-size="11" fill="#000" text-anchor="start" textLength="31.2" lengthAdjust="spacing" font-weight="normal">28.00</text>
<text x="1318" y="316.7230964218479" font-size="11" fill="#000" text-anchor="start" textLength="31.2" lengthAdjust="spacing" font-weight="normal">30.00</text>
<text x="1318" y="292.8737466897737" font-size="11" fill="#000" text-anchor="start" textLength="31.2" lengthAdjust="spacing" font-weight="normal">31.00</text>
<text x="1318" y="269.78164845764695" font-size="11" fill="#000" text-anchor="start" textLength="31.2" lengthAdjust="spacing" font-weight="normal">32.00</text>
<text x="1318" y="247.40019024297044" font-size="11" fill="#000" text-anchor="start" textLength="31.2" lengthAdjust="spacing" font-weight="normal">33.00</text>
<text x="1318" y="225.686936025681" font-size="11" fill="#000" text-anchor="start" textLength="31.2" lengthAdjust="spacing" font-weight="normal">34.00</text>
<text x="1318" y="204.6031409562902" font-size="11" fill="#000" text-anchor="start" textLength="31.2" lengthAdjust="spacing" font-weight="normal">35.00</text>
<text x="1318" y="184.11333530333286" font-size="11" fill="#000" text-anchor="start" textLength="31.2" lengthAdjust="spacing" font-weight="normal">36.00</text>
<text x="1318" y="164.18496541734976" font-size="11" fill="#000" text-anchor="start" textLength="31.2" lengthAdjust="spacing" font-weight="normal">37.00</text>
<text x="1318" y="144.78808258461095" font-size="11" fill="#000" text-anchor="start" textLength="31.2" lengthAdjust="spacing" font-weight="normal">38.00</text>
<text x="1318" y="125.89507230406298" font-size="11" fill="#000" text-anchor="start" textLength="31.2" lengthAdjust="spacing" font-weight="normal">39.00</text>
<text x="1318" y="107.48041784476982" font-size="11" fill="#000" text-anchor="start" textLength="31.2" lengthAdjust="spacing" font-weight="normal">40.00</text>
<text x="1318" y="89.52049300328872" font-size="11" fill="#000" text-anchor="start" textLength="31.2" lengthAdjust="spacing" font-weight="normal">41.00</text>
<text x="1318" y="71.99337983777468" font-size="11" fill="#000" text-anchor="start" textLength="31.2" lengthAdjust="spacing" font-weight="normal">42.00</text>
<text x="1318" y="54.87870785144423" font-size="11" fill="#000" text-anchor="start" textLength="31.2" lengthAdjust="spacing" font-weight="normal">43.00</text>
<text x="1318" y="38.15751166589189" font-size="11" fill="#000" text-anchor="start" textLength="31.2" lengthAdjust="spacing" font-weight="normal">44.00</text>
<text x="1318" y="338.6" font-size="11" fill="#000" text-anchor="start" textLength="31.2" lengthAdjust="spacing" font-weight="normal">29.39</text>
<text x="1318" y="1003.79" font-size="11" fill="#000" text-anchor="start" textLength="36" lengthAdjust="spacing" font-weight="normal">-1.000</text>
<text x="1318" y="978.1" font-size="11" fill="#000" text-anchor="start" textLength="36" lengthAdjust="spacing" font-weight="normal">-0.500</text>
<text x="1318" y="952.41" font-size="11" fill="#000" text-anchor="start" textLength="31.2" lengthAdjust="spacing" font-weight="normal">0.000</text>
<text x="1318" y="926.7199999999999" font-size="11" fill="#000" text-anchor="start" textLength="31.2" lengthAdjust="spacing" font-weight="normal">0.500</text>
<text x="1318" y="901.03" font-size="11" fill="#000" text-anchor="start" textLength="31.2" lengthAdjust="spacing" font-weight="normal">1.000</text>
<text x="1318" y="875.3399999999999" font-size="11" fill="#000" text-anchor="start" textLength="31.2" lengthAdjust="spacing" font-weight="normal">1.500</text>
<text x="1318" y="849.65" font-size="11" fill="#000" text-anchor="start" textLength="31.2" lengthAdjust="spacing" font-weight="normal">2.000</text>
<text x="1318" y="823.9599999999999" font-size="11" fill="#000" text-anchor="start" textLength="31.2" lengthAdjust="spacing" font-weight="normal">2.500</text>
<text x="2" y="781" font-size="11" fill="#000" text-anchor="start" textLength="46.5" lengthAdjust="spacing" font-weight="normal">2024Jun</text>
<text x="79.1" y="781" font-size="11" fill="#000" text-anchor="middle" textLength="15.4" lengthAdjust="spacing" font-weight="normal">Jul</text>
<text x="168.1" y="781" font-size="11" fill="#000" text-anchor="middle" textLength="22.4" lengthAdjust="spacing" font-weight="normal">Aug</text>
<text x="238.1" y="781" font-size="11" fill="#000" text-anchor="middle" textLength="22.4" lengthAdjust="spacing" font-weight="normal">Sep</text>
<text x="326.1" y="781" font-size="11" fill="#000" text-anchor="middle" textLength="19.4" lengthAdjust="spacing" font-weight="normal">Oct</text>
<text x="397.1" y="781" font-size="11" fill="#000" text-anchor="middle" textLength="22.4" lengthAdjust="spacing" font-weight="normal">Nov</text>
<text x="467.1" y="781" font-size="11" fill="#000" text-anchor="middle" textLength="21.4" lengthAdjust="spacing" font-weight="normal">Dec</text>
<text x="556.1" y="781" font-size="11" fill="#000" text-anchor="middle" textLength="47.4" lengthAdjust="spacing" font-weight="normal">2025Jan</text>
<text x="626.1" y="781" font-size="11" fill="#000" text-anchor="middle" textLength="20.4" lengthAdjust="spacing" font-weight="normal">Feb</text>
<text x="697.1" y="781" font-size="11" fill="#000" text-anchor="middle" textLength="21.4" lengthAdjust="spacing" font-weight="normal">Mar</text>
<text x="785.1" y="781" font-size="11" fill="#000" text-anchor="middle" textLength="20.4" lengthAdjust="spacing" font-weight="normal">Apr</text>
<text x="855.1" y="781" font-size="11" fill="#000" text-anchor="middle" textLength="23.4" lengthAdjust="spacing" font-weight="normal">May</text>
<text x="926.1" y="781" font-size="11" fill="#000" text-anchor="middle" textLength="19.4" lengthAdjust="spacing" font-weight="normal">Jun</text>
<text x="1014.1" y="781" font-size="11" fill="#000" text-anchor="middle" textLength="15.4" lengthAdjust="spacing" font-weight="normal">Jul</text>
<text x="1085.1" y="781" font-size="11" fill="#000" text-anchor="middle" textLength="22.4" lengthAdjust="spacing" font-weight="normal">Aug</text>
<text x="1155.1" y="781" font-size="11" fill="#000" text-anchor="middle" textLength="22.4" lengthAdjust="spacing" font-weight="normal">Sep</text>
<text x="1243.1" y="781" font-size="11" fill="#000" text-anchor="middle" textLength="19.4" lengthAdjust="spacing" font-weight="normal">Oct</text>
<text x="2" y="1036" font-size="11" fill="#000" text-anchor="start" textLength="46.5" lengthAdjust="spacing" font-weight="normal">2024Jun</text>
<text x="79.1" y="1036" font-size="11" fill="#000" text-anchor="middle" textLength="15.4" lengthAdjust="spacing" font-weight="normal">Jul</text>
<text x="168.1" y="1036" font-size="11" fill="#000" text-anchor="middle" textLength="22.4" lengthAdjust="spacing" font-weight="normal">Aug</text>
<text x="238.1" y="1036" font-size="11" fill="#000" text-anchor="middle" textLength="22.4" lengthAdjust="spacing" font-weight="normal">Sep</text>
<text x="326.1" y="1036" font-size="11" fill="#000" text-anchor="middle" textLength="19.4" lengthAdjust="spacing" font-weight="normal">Oct</text>
<text x="397.1" y="1036" font-size="11" fill="#000" text-anchor="middle" textLength="22.4" lengthAdjust="spacing" font-weight="normal">Nov</text>
<text x="467.1" y="1036" font-size="11" fill="#000" text-anchor="middle" textLength="21.4" lengthAdjust="spacing" font-weight="normal">Dec</text>
<text x="556.1" y="1036" font-size="11" fill="#000" text-anchor="middle" textLength="47.4" lengthAdjust="spacing" font-weight="normal">2025Jan</text>
<text x="626.1" y="1036" font-size="11" fill="#000" text-anchor="middle" textLength="20.4" lengthAdjust="spacing" font-weight="normal">Feb</text>
<text x="697.1" y="1036" font-size="11" fill="#000" text-anchor="middle" textLength="21.4" lengthAdjust="spacing" font-weight="normal">Mar</text>
<text x="785.1" y="1036" font-size="11" fill="#000" text-anchor="middle" textLength="20.4" lengthAdjust="spacing" font-weight="normal">Apr</text>
<text x="855.1" y="1036" font-size="11" fill="#000" text-anchor="middle" textLength="23.4" lengthAdjust="spacing" font-weight="normal">May</text>
<text x="926.1" y="1036" font-size="11" fill="#000" text-anchor="middle" textLength="19.4" lengthAdjust="spacing" font-weight="normal">Jun</text>
<text x="1014.1" y="1036" font-size="11" fill="#000" text-anchor="middle" textLength="15.4" lengthAdjust="spacing" font-weight="normal">Jul</text>
<text x="1085.1" y="1036" font-size="11" fill="#000" text-anchor="middle" textLength="22.4" lengthAdjust="spacing" font-weight="normal">Aug</text>
<text x="1155.1" y="1036" font-size="11" fill="#000" text-anchor="middle" textLength="22.4" lengthAdjust="spacing" font-weight="normal">Sep</text>
<text x="1243.1" y="1036" font-size="11" fill="#000" text-anchor="middle" textLength="19.4" lengthAdjust="spacing" font-weight="normal">Oct</text>
<text x="2.5" y="11.3" font-size="11.5" fill="#000" text-anchor="start" textLength="42.6" lengthAdjust="spacing" font-weight="bold">(ZLAB)</text>
<text x="5" y="25" font-size="9.6" fill="#006400" text-anchor="start" textLength="23.4" lengthAdjust="spacing" font-weight="normal">ZLAB</text>
<text x="37.5" y="25" font-size="9.6" fill="#0000ff" text-anchor="start" textLength="27.4" lengthAdjust="spacing" font-weight="normal">MA(3)</text>
<text x="73" y="25" font-size="9.6" fill="#0000ff" text-anchor="start" textLength="26.2" lengthAdjust="spacing" font-weight="normal">31.13</text>
<text x="5.5" y="795" font-size="9.6" fill="#101010" text-anchor="start" textLength="70" lengthAdjust="spacing" font-weight="normal">MACD(26,12,9)</text>
<text x="87.5" y="795" font-size="9.6" fill="#0000ff" text-anchor="start" textLength="61" lengthAdjust="spacing" font-weight="normal">MACD:-1.483</text>
<g shape-rendering="auto" fill="none" stroke="#000"><circle cx="1282" cy="1048" r="3.5" stroke-width="1.1"/><path d="M1283.4 1046.8 A1.7 1.7 0 1 0 1283.4 1049.2" stroke-width="1.1"/></g>
<text x="1289" y="1051.9" font-size="11" fill="#000" text-anchor="start" textLength="70.6" lengthAdjust="spacing" font-weight="normal">12Stocks.com</text>
</svg>
</body></html>
